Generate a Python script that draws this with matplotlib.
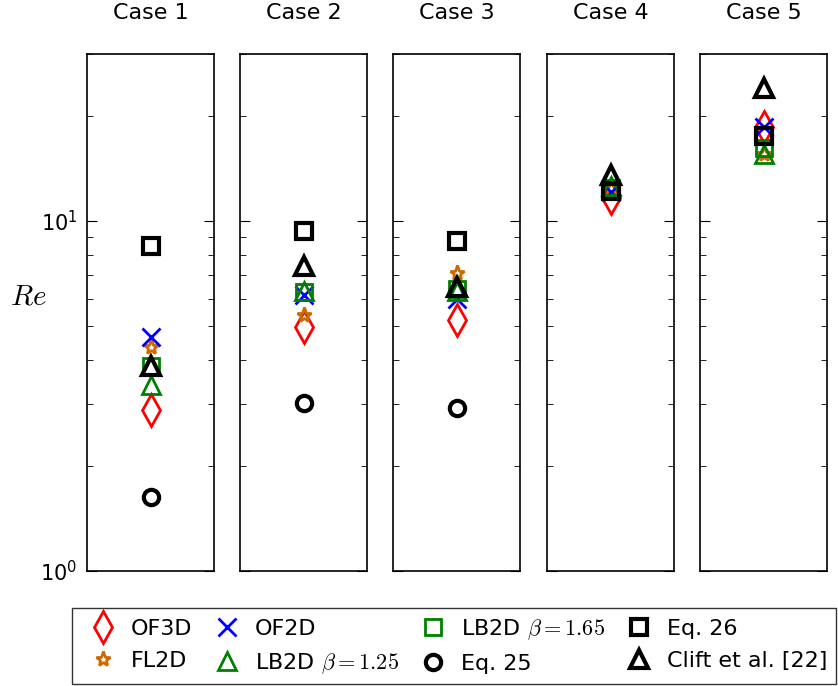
import numpy as np
import matplotlib
matplotlib.use("Agg")
import matplotlib.pyplot as plt
from matplotlib.font_manager import FontProperties

# Values (Re for each case)
cases = ["Case 1", "Case 2", "Case 3", "Case 4", "Case 5"]
of3d = [2.89, 4.99, 5.20, 11.65, 18.5]
fl2d = [4.37, 5.39, 7.11, 12.4, 15.5]
of2d = [4.65, 6.15, 5.98, 12.08, 18.6]
lb2d_125 = [3.39, 6.3, 6.3, 12.57, 15.5]
lb2d_165 = [3.86, 6.26, 6.41, 12.4, 16.2]
eq25 = [1.63, 3.02, 2.93, np.nan, np.nan]
eq26 = [8.46, 9.39, 8.76, 12.16, 17.5]
clift = [3.86, 7.45, 6.49, 13.57, 24.0]

# data, label, marker, colour, size, edge width
series = [
    (of3d, "OF3D", "d", "r", 16, 2),
    (fl2d, "FL2D", "*", "#cc6a00", 11, 2),
    (of2d, "OF2D", "x", "b", 13, 2),
    (lb2d_125, r"LB2D $\beta = 1.25$", "^", "g", 13, 2),
    (lb2d_165, r"LB2D $\beta = 1.65$", "s", "g", 12, 2),
    (eq25, "Eq. 25", "o", "k", 11, 3),
    (eq26, "Eq. 26", "s", "k", 11, 3),
    (clift, "Clift et al. [22]", "^", "k", 13, 3),
]

fig = plt.figure(figsize=(8.38, 6.86), dpi=100)

W, H = 838.0, 686.0
lefts = [87, 240, 393, 547, 700]
axes = []
for i, name in enumerate(cases):
    ax = fig.add_axes([lefts[i] / W, 115 / H, 127 / W, 517 / H])
    for vals, lab, m, c, ms, mew in series:
        ax.plot([0], [vals[i]], linestyle="none", marker=m, markersize=ms,
                markerfacecolor="none", markeredgecolor=c, markeredgewidth=mew,
                label=lab)
    ax.set_yscale("log")
    ax.set_ylim(1, 30)
    ax.set_xlim(-1, 1)
    ax.set_xticks([])
    ax.set_title(name, fontsize=16, pad=25)
    ax.tick_params(axis="y", which="both", direction="in", right=True,
                   labelsize=15, pad=7)
    ax.tick_params(axis="y", which="major", length=7)
    ax.tick_params(axis="y", which="minor", length=4)
    for s in ax.spines.values():
        s.set_linewidth(1.2)
    if i > 0:
        ax.tick_params(axis="y", which="both", labelleft=False)
    axes.append(ax)

axes[0].set_ylabel("$Re$", rotation=0, fontsize=21, math_fontfamily="cm",
                   ha="center", va="center")
axes[0].yaxis.set_label_coords(-0.46, 0.53)

handles, labels = axes[0].get_legend_handles_labels()
fig.legend(handles, labels, loc="upper left",
           bbox_to_anchor=(72 / W, 1 - 608 / H), ncol=4, numpoints=1,
           fancybox=False, edgecolor="k", handlelength=2.0,
           columnspacing=0.55, handletextpad=0.25, borderpad=0.4,
           labelspacing=0.55, borderaxespad=0,
           prop=FontProperties(size=16, math_fontfamily="cm"))

fig.savefig("out.png", dpi=100)
